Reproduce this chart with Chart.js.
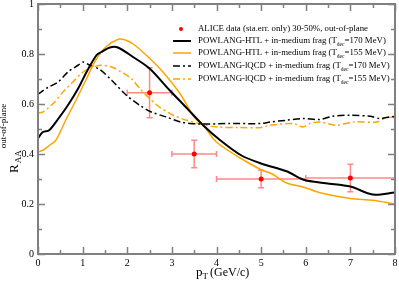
<!DOCTYPE html>
<html>
<head>
<meta charset="utf-8">
<script src="https://cdn.jsdelivr.net/npm/chart.js@4/dist/chart.umd.min.js"></script>
<style>
  html, body { margin: 0; padding: 0; background: #fff; }
  #wrap { width: 399px; height: 282px; }
</style>
</head>
<body>
<div id="wrap"><canvas id="c" width="399" height="282"></canvas></div>
<script>
  // ALICE data points (30-50%, out-of-plane)
  var aliceX = [2.5, 3.5, 5, 7];
  var aliceY = [0.645, 0.40, 0.30, 0.304];
  var aliceXErr = [0.5, 0.5, 1, 1];
  var aliceYErr = [0.1, 0.055, 0.035, 0.055];

  // POWLANG-HTL, Tdec = 170 MeV
  var htl170X = [0, 0.11, 0.25, 0.45, 0.67, 0.9, 1.1, 1.31, 1.42, 1.61, 1.79, 2.13, 2.5, 2.95, 3.3, 3.7, 4.07, 4.55, 5.0, 5.57, 5.95, 6.45, 7.0, 7.5, 8.0];
  var htl170Y = [0.463, 0.488, 0.495, 0.54, 0.595, 0.662, 0.732, 0.795, 0.808, 0.826, 0.826, 0.788, 0.742, 0.655, 0.59, 0.515, 0.457, 0.395, 0.362, 0.331, 0.297, 0.283, 0.27, 0.238, 0.246];

  // POWLANG-HTL, Tdec = 155 MeV
  var htl155X = [0, 0.11, 0.26, 0.4, 0.62, 0.85, 1.07, 1.29, 1.52, 1.8, 1.97, 2.15, 2.47, 2.8, 3.18, 3.5, 3.7, 4.0, 4.52, 5.0, 5.25, 5.57, 5.94, 6.32, 7.0, 7.5, 8.0];
  var htl155Y = [0.408, 0.415, 0.435, 0.455, 0.535, 0.615, 0.695, 0.775, 0.828, 0.859, 0.855, 0.838, 0.788, 0.728, 0.642, 0.548, 0.515, 0.448, 0.385, 0.337, 0.32, 0.284, 0.268, 0.245, 0.222, 0.215, 0.2];

  // POWLANG-lQCD, Tdec = 170 MeV
  var lqcd170X = [0, 0.22, 0.45, 0.67, 0.9, 1.01, 1.16, 1.38, 1.65, 1.98, 2.28, 2.54, 2.88, 3.2, 3.6, 4.3, 5.0, 5.2, 5.57, 5.94, 6.3, 6.61, 7.0, 7.44, 7.66, 7.88, 8.0];
  var lqcd170Y = [0.639, 0.666, 0.688, 0.728, 0.755, 0.768, 0.755, 0.739, 0.695, 0.635, 0.595, 0.568, 0.548, 0.528, 0.52, 0.522, 0.522, 0.528, 0.535, 0.542, 0.538, 0.551, 0.555, 0.551, 0.542, 0.548, 0.551];

  // POWLANG-lQCD, Tdec = 155 MeV
  var lqcd155X = [0, 0.11, 0.34, 0.56, 0.78, 1.01, 1.23, 1.42, 1.65, 1.87, 2.09, 2.28, 2.5, 2.72, 3.03, 3.33, 3.6, 4.0, 4.5, 5.0, 5.2, 5.72, 5.94, 6.09, 6.32, 6.69, 7.06, 7.59, 7.81, 8.0];
  var lqcd155Y = [0.564, 0.568, 0.602, 0.648, 0.688, 0.728, 0.748, 0.755, 0.748, 0.728, 0.702, 0.662, 0.622, 0.588, 0.555, 0.535, 0.522, 0.508, 0.506, 0.506, 0.515, 0.522, 0.508, 0.522, 0.528, 0.515, 0.528, 0.528, 0.546, 0.546];

  var legendLabels = [
    ['ALICE data (sta.err. only) 30-50%, out-of-plane'],
    ['POWLANG-HTL + in-medium frag (T', 'dec', '=170 MeV)'],
    ['POWLANG-HTL + in-medium frag (T', 'dec', '=155 MeV)'],
    ['POWLANG-lQCD + in-medium frag (T', 'dec', '=170 MeV)'],
    ['POWLANG-lQCD + in-medium frag (T', 'dec', '=155 MeV)']
  ];

  var ORANGE = '#ffa500';
  var FRAME = '#808080';
  var SERIF = '"Liberation Serif", "DejaVu Serif", serif';
  var DASHDOT = [7, 3, 2, 3];

  function pts(xs, ys) {
    return xs.map(function (x, i) { return { x: x, y: ys[i] }; });
  }

  // inward ticks on all four sides + grey frame, axis titles, legend
  var framePlugin = {
    id: 'frame',
    afterDraw: function (chart) {
      var ctx = chart.ctx, a = chart.chartArea;
      var xs = chart.scales.x, ys = chart.scales.y;
      ctx.save();
      ctx.strokeStyle = FRAME;
      ctx.lineWidth = 1.5;
      ctx.beginPath();
      var v, p, len;
      for (v = 0; v <= 8.001; v += 0.5) {
        p = Math.round(xs.getPixelForValue(v)) + 0.5;
        len = (Math.abs(v - Math.round(v)) < 1e-6) ? 7 : 4;
        ctx.moveTo(p, a.bottom); ctx.lineTo(p, a.bottom - len);
        ctx.moveTo(p, a.top); ctx.lineTo(p, a.top + len);
      }
      for (v = 0; v <= 1.0001; v += 0.1) {
        p = Math.round(ys.getPixelForValue(v)) + 0.5;
        len = (Math.round(v * 10) % 2 === 0) ? 7 : 4;
        ctx.moveTo(a.left, p); ctx.lineTo(a.left + len, p);
        ctx.moveTo(a.right, p); ctx.lineTo(a.right - len, p);
      }
      ctx.stroke();
      ctx.lineWidth = 2;
      ctx.strokeRect(a.left, a.top, a.right - a.left, a.bottom - a.top);

      // x title
      ctx.fillStyle = '#000';
      ctx.textBaseline = 'alphabetic';
      ctx.font = '13px ' + SERIF;
      var tx = 196, ty = 276;
      ctx.fillText('p', tx, ty);
      tx += ctx.measureText('p').width;
      ctx.font = '9px ' + SERIF;
      ctx.fillText('T', tx, ty + 3);
      tx += ctx.measureText('T').width + 2;
      ctx.font = '12px ' + SERIF;
      ctx.fillText('(GeV/c)', tx, ty);

      // y title, rotated
      ctx.translate(18, 173);
      ctx.rotate(-Math.PI / 2);
      ctx.font = '13px ' + SERIF;
      ctx.fillText('R', 0, 0);
      var rx = ctx.measureText('R').width + 1;
      ctx.font = '9px ' + SERIF;
      ctx.fillText('AA', rx, 3);
      rx += ctx.measureText('AA').width + 2;
      ctx.fillText('out-of-plane', rx, -12);
      ctx.restore();

      // legend
      ctx.save();
      var rowsY = [29, 41, 53, 66, 79];
      var styles = [
        null,
        { c: '#000', w: 2, d: [] },
        { c: ORANGE, w: 1.5, d: [] },
        { c: '#000', w: 1.5, d: DASHDOT },
        { c: ORANGE, w: 1.5, d: DASHDOT }
      ];
      for (var i = 0; i < rowsY.length; i++) {
        var yy = rowsY[i];
        if (i === 0) {
          ctx.fillStyle = '#ff0000';
          ctx.beginPath();
          ctx.arc(181, yy, 2, 0, Math.PI * 2);
          ctx.fill();
        } else {
          ctx.strokeStyle = styles[i].c;
          ctx.lineWidth = styles[i].w;
          ctx.setLineDash(styles[i].d);
          ctx.beginPath();
          ctx.moveTo(173, yy); ctx.lineTo(191, yy);
          ctx.stroke();
          ctx.setLineDash([]);
        }
        ctx.fillStyle = '#000';
        ctx.textBaseline = 'middle';
        var lx = 198, parts = legendLabels[i];
        ctx.font = '8.8px ' + SERIF;
        ctx.fillText(parts[0], lx, yy);
        if (parts.length > 1) {
          lx += ctx.measureText(parts[0]).width;
          ctx.font = '5.5px ' + SERIF;
          ctx.fillText(parts[1], lx, yy + 4);
          lx += ctx.measureText(parts[1]).width;
          ctx.font = '8.8px ' + SERIF;
          ctx.fillText(parts[2], lx, yy);
        }
      }
      ctx.restore();
    }
  };

  // error bars for ALICE points
  var errorBarPlugin = {
    id: 'errbars',
    beforeDatasetsDraw: function (chart) {
      var ctx = chart.ctx, xs = chart.scales.x, ys = chart.scales.y;
      ctx.save();
      ctx.strokeStyle = 'rgba(255, 40, 40, 0.55)';
      ctx.lineWidth = 1.5;
      ctx.beginPath();
      aliceX.forEach(function (x, i) {
        var px = xs.getPixelForValue(x), py = ys.getPixelForValue(aliceY[i]);
        var x0 = xs.getPixelForValue(x - aliceXErr[i]), x1 = xs.getPixelForValue(x + aliceXErr[i]);
        var y0 = ys.getPixelForValue(aliceY[i] - aliceYErr[i]), y1 = ys.getPixelForValue(aliceY[i] + aliceYErr[i]);
        ctx.moveTo(x0, py); ctx.lineTo(x1, py);
        ctx.moveTo(x0, py - 3); ctx.lineTo(x0, py + 3);
        ctx.moveTo(x1, py - 3); ctx.lineTo(x1, py + 3);
        ctx.moveTo(px, y0); ctx.lineTo(px, y1);
        ctx.moveTo(px - 3, y0); ctx.lineTo(px + 3, y0);
        ctx.moveTo(px - 3, y1); ctx.lineTo(px + 3, y1);
      });
      ctx.stroke();
      ctx.restore();
    }
  };

  function lineSet(xs, ys, color, width, dash) {
    return {
      data: pts(xs, ys),
      borderColor: color,
      borderWidth: width,
      borderDash: dash,
      pointRadius: 0,
      tension: 0.3,
      fill: false
    };
  }

  new Chart(document.getElementById('c'), {
    type: 'line',
    data: {
      datasets: [
        { data: pts(aliceX, aliceY), showLine: false, pointRadius: 2.5, pointBackgroundColor: '#ff0000', pointBorderWidth: 0, borderColor: '#ff0000' },
        lineSet(htl170X, htl170Y, '#000', 2, []),
        lineSet(htl155X, htl155Y, ORANGE, 1.5, []),
        lineSet(lqcd170X, lqcd170Y, '#000', 1.5, DASHDOT),
        lineSet(lqcd155X, lqcd155Y, ORANGE, 1.5, DASHDOT)
      ]
    },
    options: {
      responsive: false,
      animation: false,
      devicePixelRatio: 1,
      layout: { padding: { top: 4, right: 4, left: 0, bottom: 0 } },
      plugins: { legend: { display: false }, tooltip: { enabled: false } },
      scales: {
        x: {
          type: 'linear', min: 0, max: 8,
          grid: { display: false, drawTicks: false },
          border: { display: false },
          ticks: { stepSize: 1, padding: 3, color: '#000', font: { family: SERIF, size: 10 }, maxRotation: 0 },
          afterFit: function (s) { s.height = 28; s.paddingLeft = 0; s.paddingRight = 0; }
        },
        y: {
          type: 'linear', min: 0, max: 1,
          grid: { display: false, drawTicks: false },
          border: { display: false },
          ticks: {
            stepSize: 0.2, padding: 4, color: '#000', font: { family: SERIF, size: 10 },
            callback: function (v) { return String(+v.toFixed(1)); }
          },
          afterFit: function (s) { s.width = 38; s.paddingTop = 0; s.paddingBottom = 0; }
        }
      }
    },
    plugins: [errorBarPlugin, framePlugin]
  });
</script>
</body>
</html>
